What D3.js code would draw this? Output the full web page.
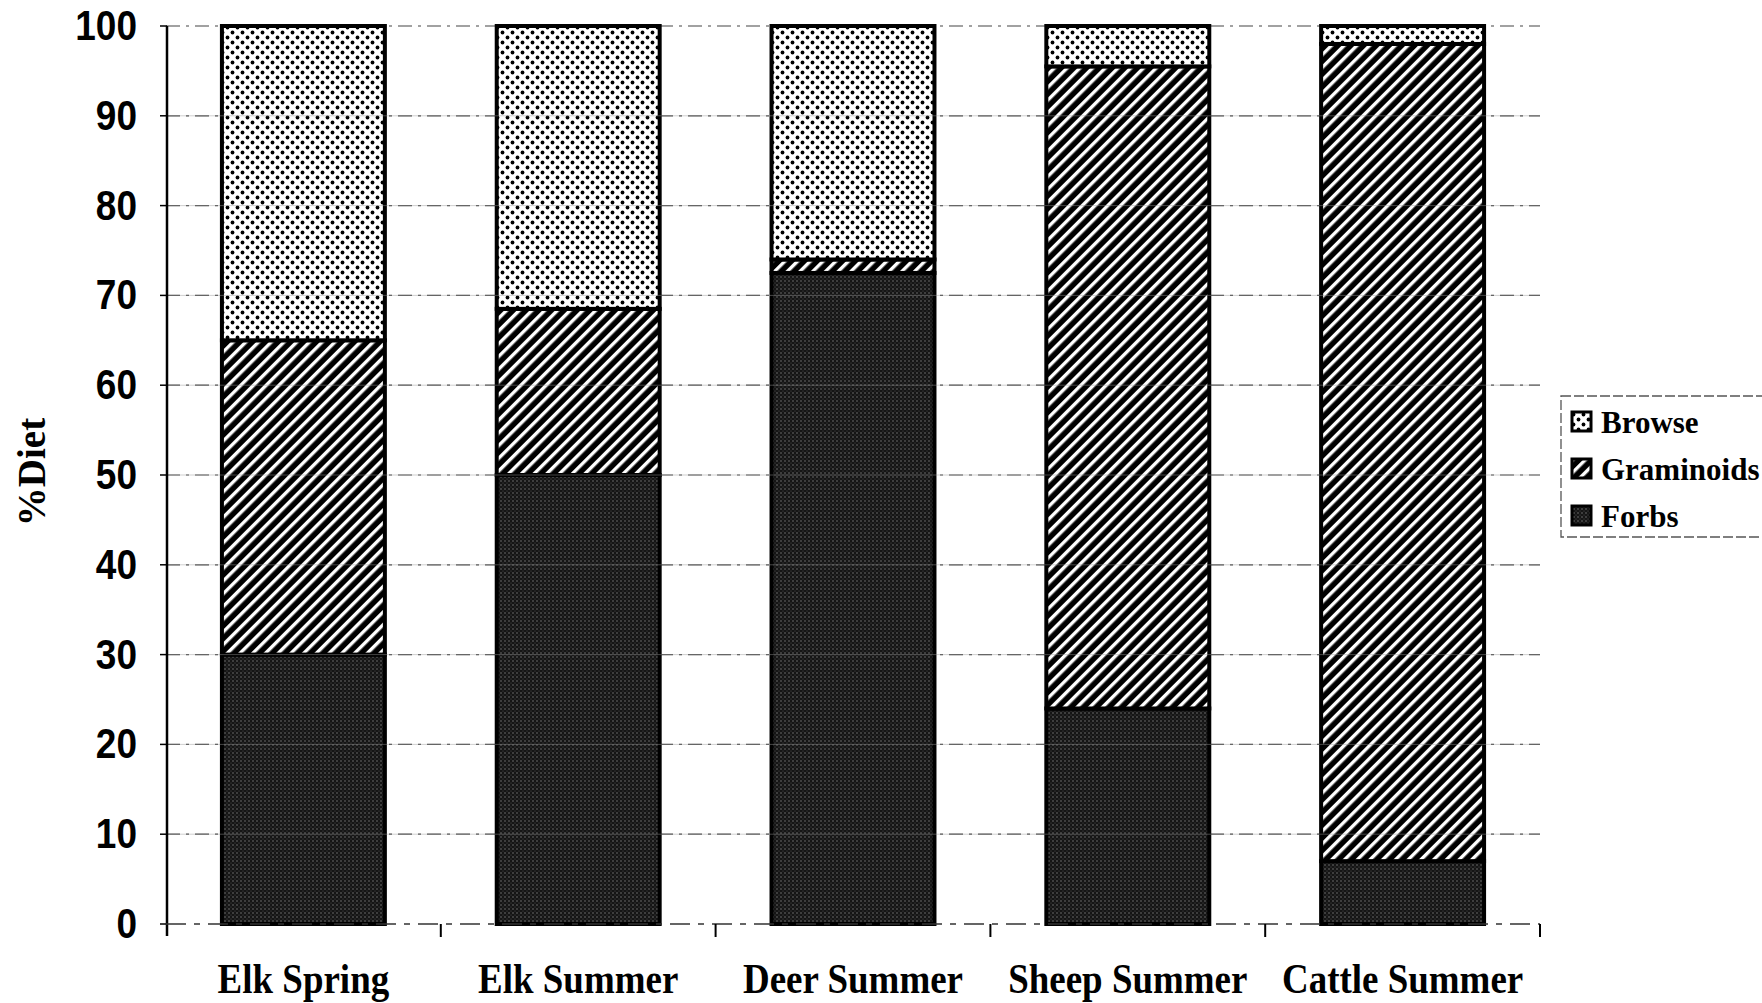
<!DOCTYPE html>
<html>
<head>
<meta charset="utf-8">
<script src="https://cdn.jsdelivr.net/npm/d3@7"></script>
<style>
  body { margin: 0; background: #fff; }
  svg { display: block; }
  .ylab { font-family: "Liberation Sans", Arial, sans-serif; font-weight: bold; font-size: 37px; }
  .serif { font-family: "Liberation Serif", "Times New Roman", serif; font-weight: bold; }
</style>
</head>
<body>
<div id="chart"></div>
<script>
// diet composition (% of diet)
var groups = ["Elk Spring", "Elk Summer", "Deer Summer", "Sheep Summer", "Cattle Summer"];
var forbs      = [30, 50, 72.5, 24, 7];
var graminoids = [35, 18.5, 1.5, 71.5, 91];
var browse     = [35, 31.5, 26, 4.5, 2];
var yTicks = [0, 10, 20, 30, 40, 50, 60, 70, 80, 90, 100];
var legendNames = ["Browse", "Graminoids", "Forbs"];

var width = 1762, height = 1003;

var svg = d3.select("#chart")
    .append("svg")
    .attr("width", width)
    .attr("height", height);

// hatch patterns that mimic the printed fills
var defs = svg.append("defs");

var pb = defs.append("pattern")
    .attr("id", "p_browse")
    .attr("patternUnits", "userSpaceOnUse")
    .attr("width", 10).attr("height", 10);
pb.append("rect").attr("width", 10).attr("height", 10).attr("fill", "#fff");
pb.append("circle").attr("cx", 2.5).attr("cy", 2.5).attr("r", 1.9).attr("fill", "#000");
pb.append("circle").attr("cx", 7.5).attr("cy", 7.5).attr("r", 1.9).attr("fill", "#000");

var pg = defs.append("pattern")
    .attr("id", "p_gram")
    .attr("patternUnits", "userSpaceOnUse")
    .attr("width", 9).attr("height", 9)
    .attr("patternTransform", "rotate(45)");
pg.append("rect").attr("width", 9).attr("height", 9).attr("fill", "#000");
pg.append("rect").attr("x", 0).attr("y", 0).attr("width", 3.4).attr("height", 9).attr("fill", "#fff");

var pf = defs.append("pattern")
    .attr("id", "p_forbs")
    .attr("patternUnits", "userSpaceOnUse")
    .attr("width", 4).attr("height", 4);
pf.append("rect").attr("width", 4).attr("height", 4).attr("fill", "#151515");
pf.append("circle").attr("cx", 1).attr("cy", 1).attr("r", 0.75).attr("fill", "#7a7a7a");
pf.append("circle").attr("cx", 3).attr("cy", 3).attr("r", 0.55).attr("fill", "#555");

var fills = { browse: "url(#p_browse)", graminoids: "url(#p_gram)", forbs: "url(#p_forbs)" };

var x = d3.scaleBand()
    .domain(groups)
    .range([166, 1540])
    .paddingInner(0.407)
    .paddingOuter(0.2035);

var y = d3.scaleLinear()
    .domain([0, 100])
    .range([924, 26]);

// gridlines
svg.append("g")
    .selectAll("line")
    .data(yTicks.filter(d => d > 0))
    .enter()
    .append("line")
    .attr("x1", 166).attr("x2", 1540)
    .attr("y1", d => y(d)).attr("y2", d => y(d))
    .attr("stroke", "#444")
    .attr("stroke-width", 1.2)
    .attr("stroke-dasharray", "14,6,3,6");

// stacked bars
var table = groups.map(function(g, i){
    return { group: g, forbs: forbs[i], graminoids: graminoids[i], browse: browse[i] };
});
var stack = d3.stack().keys(["forbs", "graminoids", "browse"])(table);

svg.append("g")
    .selectAll("g")
    .data(stack)
    .enter()
    .append("g")
    .attr("fill", d => fills[d.key])
    .selectAll("rect")
    .data(d => d)
    .enter()
    .append("rect")
    .attr("x", d => x(d.data.group))
    .attr("width", x.bandwidth())
    .attr("y", d => y(d[1]))
    .attr("height", d => y(d[0]) - y(d[1]))
    .attr("stroke", "#000")
    .attr("stroke-width", 4);

// faint gridlines showing through the fills
svg.append("g")
    .selectAll("line")
    .data(yTicks.filter(d => d > 0 && d < 100))
    .enter()
    .append("line")
    .attr("x1", 166).attr("x2", 1540)
    .attr("y1", d => y(d)).attr("y2", d => y(d))
    .attr("stroke", "#999")
    .attr("stroke-width", 1)
    .attr("opacity", 0.45);

// y axis
svg.append("line")
    .attr("x1", 167).attr("x2", 167)
    .attr("y1", y(100)).attr("y2", y(0) + 12)
    .attr("stroke", "#000").attr("stroke-width", 2.5);

svg.append("g")
    .selectAll("line")
    .data(yTicks)
    .enter()
    .append("line")
    .attr("x1", 160).attr("x2", 167)
    .attr("y1", d => y(d)).attr("y2", d => y(d))
    .attr("stroke", "#000").attr("stroke-width", 1.5);

svg.append("g")
    .selectAll("text")
    .data(yTicks)
    .enter()
    .append("text")
    .attr("class", "ylab")
    .attr("text-anchor", "end")
    .attr("transform", d => `translate(137,${y(d) + 14}) scale(1,1.15)`)
    .text(d => d);

svg.append("text")
    .attr("class", "serif")
    .attr("font-size", 39)
    .attr("text-anchor", "middle")
    .attr("transform", "translate(45,472) rotate(-90)")
    .text("%Diet");

// x axis with ticks between categories
svg.append("line")
    .attr("x1", 166).attr("x2", 1540)
    .attr("y1", y(0)).attr("y2", y(0))
    .attr("stroke", "#333").attr("stroke-width", 1.5)
    .attr("stroke-dasharray", "20,8,6,8");

svg.append("g")
    .selectAll("line")
    .data(groups)
    .enter()
    .append("line")
    .attr("x1", d => x(d) + x.bandwidth() + x.step() * x.paddingInner() / 2)
    .attr("x2", d => x(d) + x.bandwidth() + x.step() * x.paddingInner() / 2)
    .attr("y1", y(0)).attr("y2", y(0) + 13)
    .attr("stroke", "#000").attr("stroke-width", 2);

svg.append("g")
    .selectAll("text")
    .data(groups)
    .enter()
    .append("text")
    .attr("class", "serif")
    .attr("font-size", 43)
    .attr("text-anchor", "middle")
    .attr("transform", d => `translate(${x(d) + x.bandwidth() / 2},993) scale(0.86,1)`)
    .text(d => d);

// legend
var legend = svg.append("g").attr("transform", "translate(1561,396)");
legend.append("rect")
    .attr("width", 230).attr("height", 141)
    .attr("fill", "none")
    .attr("stroke", "#555").attr("stroke-width", 1.3)
    .attr("stroke-dasharray", "10,3");

var items = legend.selectAll("g")
    .data(legendNames)
    .enter()
    .append("g")
    .attr("transform", (d, i) => `translate(0,${26 + i * 47})`);

items.append("rect")
    .attr("x", 11).attr("y", -10)
    .attr("width", 19).attr("height", 19)
    .attr("fill", d => fills[d.toLowerCase()])
    .attr("stroke", "#000").attr("stroke-width", 3);

items.append("text")
    .attr("class", "serif")
    .attr("font-size", 31)
    .attr("x", 40).attr("y", 11)
    .text(d => d);
</script>
</body>
</html>
